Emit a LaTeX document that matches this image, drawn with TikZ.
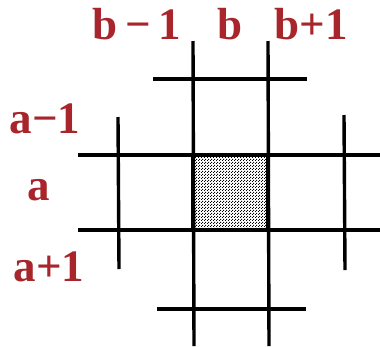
\documentclass[tikz,border=0pt]{standalone}
\usepackage{fontspec}
\setmainfont{Liberation Serif}
\usetikzlibrary{patterns}
\definecolor{rotbraun}{HTML}{A8262B}
\pgfdeclarepatternformonly{rasterpunkte}{\pgfpointorigin}{\pgfqpoint{3pt}{3pt}}{\pgfqpoint{3pt}{3pt}}{%
  \pgfpathrectangle{\pgfpointorigin}{\pgfqpoint{1.3pt}{1.3pt}}%
  \pgfpathrectangle{\pgfqpoint{1.5pt}{1.5pt}}{\pgfqpoint{1.3pt}{1.3pt}}%
  \pgfusepath{fill}}

\begin{document}
\begin{tikzpicture}[x=1pt, y=-1pt,
        gitter/.style={line width=3.4pt},
        zelle/.style={line width=4.6pt, pattern=rasterpunkte},
        lbl/.style={text=rotbraun, anchor=base, inner sep=0pt,
                    font=\fontsize{45}{48}\selectfont\bfseries}
      ]
      \useasboundingbox (0,0) rectangle (380,346);

      % shaded cell (a,b)
      \draw[zelle] (193,155) rectangle (268,230);

      % columns b and b+1
      \draw[gitter] (193,41) -- (194,346);
      \draw[gitter] (268,41) -- (269,346);
      % rows a and a+1
      \draw[gitter] (78,155) -- (380,155);
      \draw[gitter] (78,230) -- (380,230);
      % short lines around
      \draw[gitter] (153,79) -- (307,79);
      \draw[gitter] (157,309) -- (306,309);
      \draw[gitter] (118,117) -- (119,269);
      \draw[gitter] (344,115) -- (345,270);

      \node[lbl] (bm) at (137,39) {b\,−\,1};
      \node[lbl] (b)  at (230,39) {b};
      \node[lbl] (bp) at (311,39) {b+1};
      \node[lbl] (am) at (45,133) {a−1};
      \node[lbl] (a)  at (39,200) {a};
      \node[lbl] (ap) at (49,281) {a+1};
    \end{tikzpicture}
\end{document}
